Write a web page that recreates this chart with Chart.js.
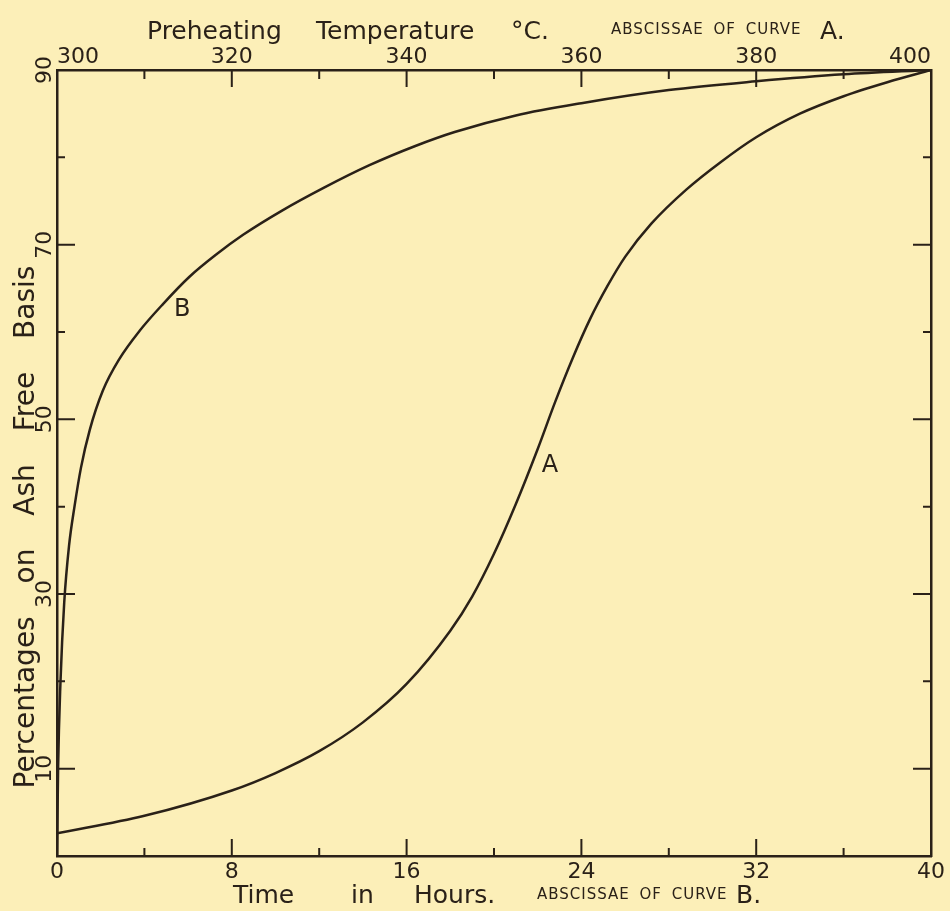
<!DOCTYPE html>
<html>
<head>
<meta charset="utf-8">
<script src="https://cdn.jsdelivr.net/npm/chart.js@4.4.1/dist/chart.umd.min.js"></script>
<style>
    html, body { margin: 0; padding: 0; background: #fcefb8; }
    #wrap { position: relative; width: 950px; height: 911px; overflow: hidden; }
    #wrap canvas { position: absolute; left: 0; top: 0; }
    .t { position: absolute; color: #2a2118; font-family: "DejaVu Sans", sans-serif; white-space: pre; line-height: 1; }
    .big { font-size: 25px; }
    .small { font-size: 15px; letter-spacing: 1px; word-spacing: 4px; }
    #ytitle { left: -275px; top: 512px; width: 600px; height: 30px; line-height: 30px; text-align: center;
              font-size: 28px; word-spacing: 24px; transform: rotate(-90deg); }
</style>
</head>
<body>
<div id="wrap">
    <canvas id="curveChart" width="950" height="911"></canvas>

    <!-- judul atas -->
    <span class="t big" style="left:147px; top:18px;">Preheating</span>
    <span class="t big" style="left:316px; top:18px;">Temperature</span>
    <span class="t big" style="left:511px; top:18px;">°C.</span>
    <span class="t small" style="left:611px; top:22px;">ABSCISSAE OF CURVE</span>
    <span class="t big" style="left:820px; top:18px;">A.</span>

    <!-- judul bawah -->
    <span class="t big" style="left:233px; top:882px;">Time</span>
    <span class="t big" style="left:351px; top:882px;">in</span>
    <span class="t big" style="left:414px; top:882px;">Hours.</span>
    <span class="t small" style="left:537px; top:887px;">ABSCISSAE OF CURVE</span>
    <span class="t big" style="left:736px; top:882px;">B.</span>

    <div class="t" id="ytitle">Percentages on Ash Free Basis</div>
</div>

<script>
// Kurva A: suhu pemanasan awal (sumbu atas)
const tempA = [300, 310, 320, 325, 330, 335, 340, 345, 347.5, 350, 352.5, 355, 357, 359, 361, 363, 365, 368, 372, 376, 380, 385, 390, 395, 400];
const pctA  = [2.6, 4.6, 7.5, 9.5, 12.0, 15.3, 19.7, 25.8, 29.7, 34.6, 40.3, 46.6, 52.0, 57.0, 61.5, 65.3, 68.6, 72.4, 76.3, 79.5, 82.3, 85.0, 87.0, 88.6, 90];

// Kurva B: waktu dalam jam (sumbu bawah)
const hoursB = [0, 0.05, 0.16, 0.33, 0.55, 0.8, 1.1, 1.5, 2.1, 2.85, 3.8, 4.85, 6.05, 7.3, 8.5, 10.3, 12.2, 14.3, 16.4, 18.2, 21.0, 24.0, 28.0, 32.0, 36.0, 40];
const pctB   = [0, 10, 20, 29, 35.5, 40, 44.5, 48.8, 53.3, 56.9, 60.2, 63.2, 66.3, 68.9, 71.1, 73.9, 76.5, 79.1, 81.3, 82.9, 84.8, 86.2, 87.7, 88.7, 89.5, 90];

// label dan tick sumbu
const hourLabels = [0, 8, 16, 24, 32, 40];
const hourTicks  = [4, 8, 12, 16, 20, 24, 28, 32, 36];
const tempLabels = [300, 320, 340, 360, 380, 400];
const tempTicks  = [310, 320, 330, 340, 350, 360, 370, 380, 390];
const pctLabels  = [10, 30, 50, 70, 90];
const pctTicks   = [10, 20, 30, 40, 50, 60, 70, 80];

const INK = '#2a2118';

// garis tick ke dalam di keempat sisi + huruf A / B
const frameTicks = {
    id: 'frameTicks',
    afterDraw(chart) {
        const { ctx, chartArea: a, scales } = chart;
        ctx.save();
        ctx.strokeStyle = INK;
        ctx.lineWidth = 2;
        ctx.beginPath();
        pctTicks.forEach(v => {
            const py = scales.y.getPixelForValue(v);
            const len = pctLabels.includes(v) ? 18 : 8;
            ctx.moveTo(a.left, py); ctx.lineTo(a.left + len, py);
            ctx.moveTo(a.right, py); ctx.lineTo(a.right - len, py);
        });
        hourTicks.forEach(v => {
            const px = scales.x.getPixelForValue(v);
            const len = hourLabels.includes(v) ? 17 : 8;
            ctx.moveTo(px, a.bottom); ctx.lineTo(px, a.bottom - len);
        });
        tempTicks.forEach(v => {
            const px = scales.x2.getPixelForValue(v);
            const len = tempLabels.includes(v) ? 17 : 9;
            ctx.moveTo(px, a.top); ctx.lineTo(px, a.top + len);
        });
        ctx.stroke();

        ctx.fillStyle = INK;
        ctx.font = '24px "DejaVu Sans"';
        ctx.textAlign = 'center';
        ctx.textBaseline = 'middle';
        ctx.fillText('B', scales.x.getPixelForValue(5.73), scales.y.getPixelForValue(62.5));
        ctx.fillText('A', scales.x2.getPixelForValue(356.4), scales.y.getPixelForValue(44.7));
        ctx.restore();
    }
};

const tickFont = { family: 'DejaVu Sans', size: 22 };
const edge = { display: true, color: INK, width: 2.5 };
const noGrid = { display: false, drawTicks: false };

new Chart(document.getElementById('curveChart'), {
    type: 'scatter',
    data: {
        datasets: [
            {
                label: 'A',
                xAxisID: 'x2',
                data: tempA.map((t, i) => ({ x: t, y: pctA[i] })),
                showLine: true,
                borderColor: INK,
                borderWidth: 2.5,
                pointRadius: 0,
                cubicInterpolationMode: 'monotone'
            },
            {
                label: 'B',
                xAxisID: 'x',
                data: hoursB.map((t, i) => ({ x: t, y: pctB[i] })),
                showLine: true,
                borderColor: INK,
                borderWidth: 2.5,
                pointRadius: 0,
                cubicInterpolationMode: 'monotone'
            }
        ]
    },
    options: {
        responsive: false,
        animation: false,
        layout: { padding: 0 },
        plugins: { legend: { display: false }, tooltip: { enabled: false } },
        scales: {
            x: {
                type: 'linear', position: 'bottom', min: 0, max: 40,
                afterBuildTicks: s => { s.ticks = hourLabels.map(v => ({ value: v })); },
                afterFit: s => { s.height = 55; },
                grid: noGrid,
                border: edge,
                ticks: { font: tickFont, color: INK, padding: 3, maxRotation: 0 }
            },
            x2: {
                type: 'linear', position: 'top', min: 300, max: 400,
                afterBuildTicks: s => { s.ticks = tempLabels.map(v => ({ value: v })); },
                afterFit: s => { s.height = 70; },
                grid: noGrid,
                border: edge,
                ticks: { font: tickFont, color: INK, padding: 0, align: 'inner', maxRotation: 0 }
            },
            y: {
                type: 'linear', position: 'left', min: 0, max: 90,
                afterBuildTicks: s => { s.ticks = pctLabels.map(v => ({ value: v })); },
                afterFit: s => { s.width = 57; },
                grid: noGrid,
                border: edge,
                ticks: { font: tickFont, color: INK, padding: -2, minRotation: 90, maxRotation: 90, crossAlign: 'center' }
            },
            y2: {
                type: 'linear', position: 'right', min: 0, max: 90,
                afterFit: s => { s.width = 19; },
                grid: noGrid,
                border: edge,
                ticks: { display: false }
            }
        }
    },
    plugins: [frameTicks]
});
</script>
</body>
</html>
